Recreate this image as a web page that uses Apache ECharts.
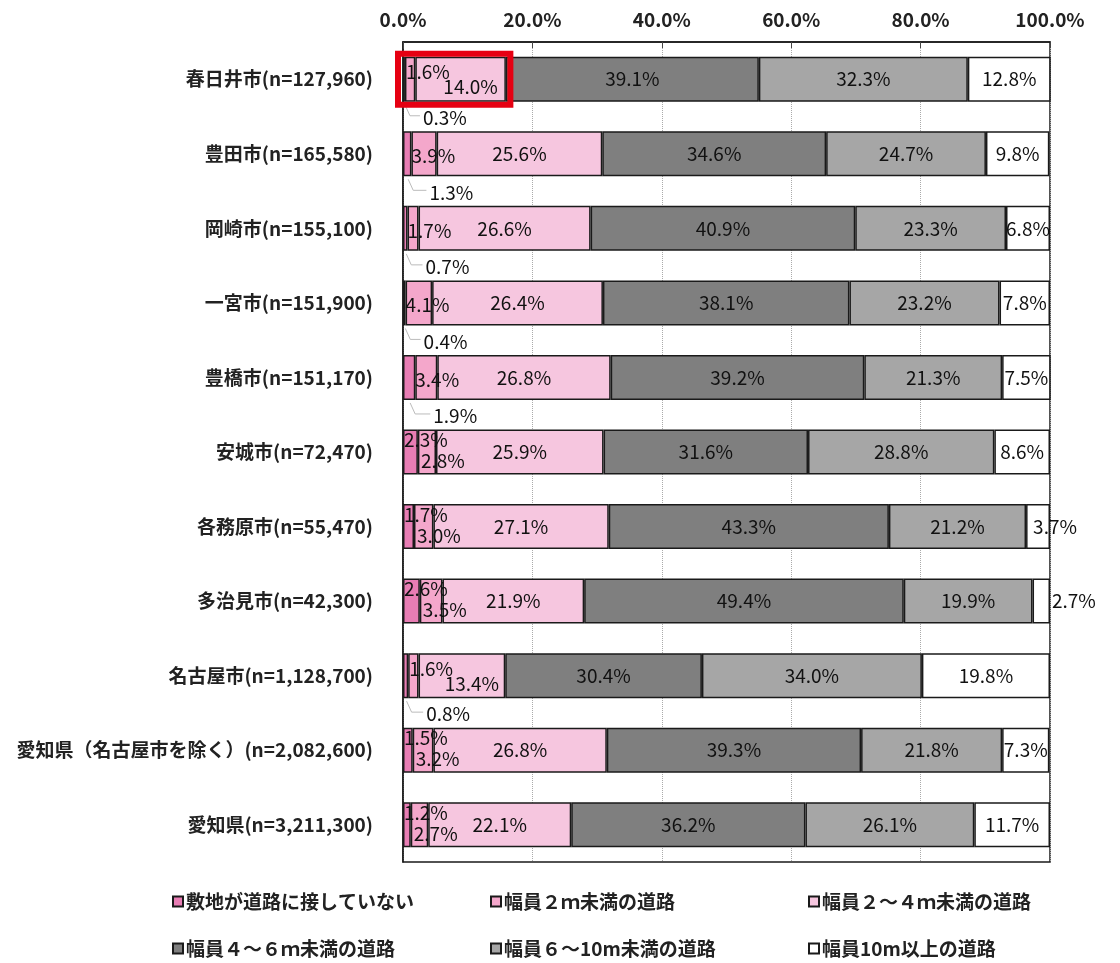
<!DOCTYPE html>
<html><head><meta charset="utf-8">
<script src="https://cdn.jsdelivr.net/npm/echarts@6/dist/echarts.min.js"></script>
<style>html,body{margin:0;padding:0;background:#fff}#c{width:1120px;height:963px}</style>
</head><body><div id="c"></div>
<script>
const categories = ['春日井市(n=127,960)','豊田市(n=165,580)','岡崎市(n=155,100)','一宮市(n=151,900)','豊橋市(n=151,170)','安城市(n=72,470)','各務原市(n=55,470)','多治見市(n=42,300)','名古屋市(n=1,128,700)','愛知県（名古屋市を除く）(n=2,082,600)','愛知県(n=3,211,300)'];
const seriesNames = ['敷地が道路に接していない','幅員２ｍ未満の道路','幅員２～４ｍ未満の道路','幅員４～６ｍ未満の道路','幅員６～10m未満の道路','幅員10m以上の道路'];
const noRoad  = [0.3, 1.3, 0.7, 0.4, 1.9, 2.3, 1.7, 2.6, 0.8, 1.5, 1.2];
const under2m = [1.6, 3.9, 1.7, 4.1, 3.4, 2.8, 3.0, 3.5, 1.6, 3.2, 2.7];
const w2to4   = [14.0, 25.6, 26.6, 26.4, 26.8, 25.9, 27.1, 21.9, 13.4, 26.8, 22.1];
const w4to6   = [39.1, 34.6, 40.9, 38.1, 39.2, 31.6, 43.3, 49.4, 30.4, 39.3, 36.2];
const w6to10  = [32.3, 24.7, 23.3, 23.2, 21.3, 28.8, 21.2, 19.9, 34.0, 21.8, 26.1];
const over10  = [12.8, 9.8, 6.8, 7.8, 7.5, 8.6, 3.7, 2.7, 19.8, 7.3, 11.7];
const xTickValues = [0, 20, 40, 60, 80, 100];

// layout config (rows whose smallest label sits below the bar with a leader line)
const calloutRows = new Set([0, 1, 2, 3, 4, 8]);

const FONT = '"Noto Sans CJK JP", "Noto Sans", sans-serif';
const colors = ['#E87DB4', '#F4A7CB', '#F6C6DF', '#7F7F7F', '#A6A6A6', '#FFFFFF'];
const seriesData = [noRoad, under2m, w2to4, w4to6, w6to10, over10];
const BAR_W = 45;
const fmt = v => v.toFixed(1) + '%';
const baseLabel = { show: true, color: '#111', fontSize: 19, fontFamily: FONT, formatter: p => fmt(p.value) };

function labelFor(si, i, v) {
  if (si === 0) {
    if (calloutRows.has(i)) return { position: 'insideBottomLeft' };
    return { position: 'insideTopLeft', distance: 1, offset: [-1, 0] };
  }
  if (si === 1) {
    if (calloutRows.has(i)) {
      if (w2to4[i] < 20) return { position: 'insideLeft', distance: 1, offset: [0, -7] };
      return { position: 'insideLeft', distance: 0, offset: [0, 2] };
    }
    return { position: 'insideLeft', distance: 3, offset: [0, 9] };
  }
  if (si === 2 && w2to4[i] < 20) return { position: 'inside', offset: [10, 8] };
  if (si === 5) {
    if (v < 3) return { position: 'right', distance: 2 };
    if (v < 5) return { position: 'inside', offset: [17, 0] };
  }
  return { position: 'inside' };
}

const series = seriesNames.map((name, si) => ({
  name, type: 'bar', stack: 'total', barWidth: BAR_W,
  itemStyle: { color: colors[si], borderColor: '#1a1a1a', borderWidth: 1.5 },
  label: baseLabel,
  labelLayout: si === 0 ? function (p) {
    if (!calloutRows.has(p.dataIndex)) return {};
    const r = p.rect;
    return { x: r.x + r.width + 18, y: r.y + r.height + 16, align: 'left', verticalAlign: 'middle' };
  } : undefined,
  emphasis: { disabled: true },
  data: seriesData[si].map((v, i) => ({ value: v, label: labelFor(si, i, v) }))
}));

const legendPos = [[172, 892], [490, 892], [808, 892], [172, 939], [490, 939], [808, 939]];
const legends = seriesNames.map((n, i) => ({
  data: [n], left: legendPos[i][0], top: legendPos[i][1], icon: 'rect', padding: 0,
  itemWidth: 10, itemHeight: 10, itemGap: 4, selectedMode: false,
  textStyle: { fontSize: 19, fontFamily: FONT, fontWeight: 'bold', color: '#222', padding: [0, 0, 0, -2] }
}));

const chart = echarts.init(document.getElementById('c'), null, { renderer: 'canvas' });
chart.setOption({
  animation: false,
  backgroundColor: '#fff',
  grid: { left: 403, right: 70, top: 42, bottom: 101, show: true, borderColor: '#1a1a1a', borderWidth: 1.5, containLabel: false },
  legend: legends,
  xAxis: {
    type: 'value', position: 'top', min: 0, max: 100, interval: 20,
    axisLine: { show: true, lineStyle: { color: '#1a1a1a', width: 1.5 } },
    axisTick: { show: true, inside: true, length: 6, lineStyle: { color: '#444' } },
    axisLabel: { fontSize: 19, fontFamily: FONT, fontWeight: 'bold', color: '#222', margin: 13,
      formatter: v => xTickValues.includes(v) ? v.toFixed(1) + '%' : '' },
    splitLine: { show: true, lineStyle: { color: '#aaa', type: 'dotted', width: 1 } }
  },
  yAxis: {
    type: 'category', inverse: true, data: categories,
    axisLine: { show: true, lineStyle: { color: '#1a1a1a', width: 1.5 } },
    axisTick: { show: false },
    axisLabel: { fontSize: 19, fontFamily: FONT, fontWeight: 'bold', color: '#222', margin: 30 }
  },
  series
});

// red highlight box + leader lines (annotations placed through the axes' own scales)
(function () {
  const g = [];
  const i = 0;
  const end = noRoad[i] + under2m[i] + w2to4[i];
  const p0 = chart.convertToPixel({ gridIndex: 0 }, [0, categories[i]]);
  const p1 = chart.convertToPixel({ gridIndex: 0 }, [end, categories[i]]);
  const top = p0[1] - BAR_W / 2, bottom = p0[1] + BAR_W / 2;
  g.push({
    type: 'rect', z: 100,
    shape: { x: p0[0] - 5, y: top - 3, width: p1[0] - p0[0] + 9.5, height: bottom - top + 6 },
    style: { fill: 'none', stroke: '#E60012', lineWidth: 6 }
  });
  calloutRows.forEach(r => {
    const a = chart.convertToPixel({ gridIndex: 0 }, [0, categories[r]]);
    const b = chart.convertToPixel({ gridIndex: 0 }, [noRoad[r], categories[r]]);
    const by = a[1] + BAR_W / 2;
    const cx = (a[0] + b[0]) / 2;
    const lx = b[0] + 18;
    g.push({
      type: 'polyline', z: 90,
      shape: { points: [[cx + 1, by + 3], [cx + 6, by + 14], [lx - 3, by + 14]] },
      style: { stroke: '#bbb', lineWidth: 1, fill: null }
    });
  });
  chart.setOption({ graphic: g });
})();
</script>
</body></html>
